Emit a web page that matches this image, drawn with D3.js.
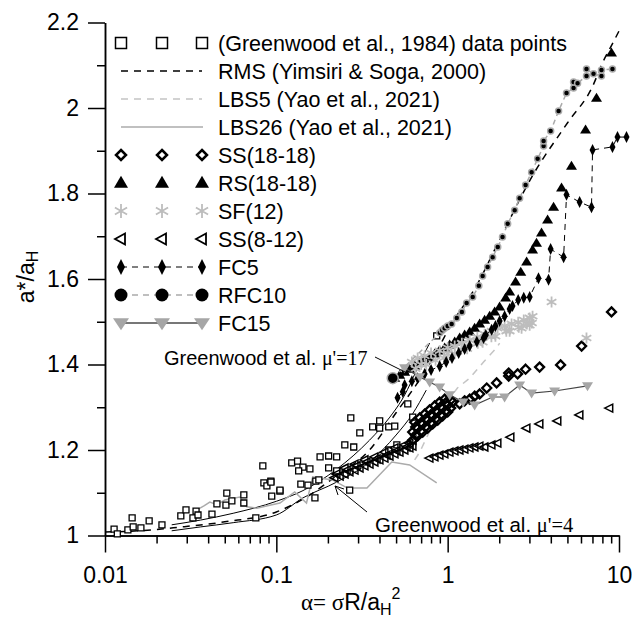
<!DOCTYPE html>
<html>
<head>
<meta charset="utf-8">
<script src="https://cdn.jsdelivr.net/npm/d3@7"></script>
<style>
body { margin:0; background:#fff; }
text { font-family:"Liberation Sans", Arial, sans-serif; }
</style>
</head>
<body>
<div id="chart"></div>
<script>
// ---- data: [alpha, a*/aH] ----
let greenwoodPts = [[0.0113,1.015],[0.0118,1.004],[0.0136,1.013],[0.0144,1.041],[0.0146,1.02],[0.0162,1.018],[0.0181,1.034],
  [0.0215,1.025],[0.0277,1.046],[0.0297,1.06],[0.0326,1.041],[0.034,1.057],[0.0349,1.048],[0.0421,1.05],[0.045,1.074],
  [0.0514,1.099],[0.0508,1.071],[0.055,1.081],[0.0646,1.095],[0.0646,1.076],[0.0759,1.041],[0.0834,1.163],[0.0846,1.123],
  [0.0881,1.116],[0.0929,1.127],[0.094,1.092],[0.105,1.104],[0.093,1.125],[0.105,1.106],[0.123,1.17],[0.133,1.174],
  [0.143,1.16],[0.157,1.156],[0.135,1.151],[0.139,1.12],[0.153,1.118],[0.168,1.088],[0.17,1.127],[0.177,1.13],[0.18,1.184],
  [0.202,1.186],[0.225,1.184],[0.202,1.158],[0.225,1.151],[0.251,1.212],[0.268,1.106],[0.272,1.275],[0.283,1.207],
  [0.307,1.24],[0.365,1.254],[0.401,1.268],[0.401,1.251],[0.453,1.254],[0.453,1.2],[0.491,1.256],[0.505,1.212],
  [0.585,1.308],[0.625,1.277],[0.863,1.467]];

let rmsCurve = [[0.01,1.008],[0.02,1.014],[0.025,1.018],[0.05,1.032],[0.1,1.055],[0.15,1.09],[0.225,1.14],[0.35,1.2],
  [0.5,1.287],[0.7,1.37],[0.86,1.43],[1.03,1.488],[1.5,1.59],[2,1.69],[3.1,1.839],[5,1.965],[7,2.05],[8,2.105],[9.4,2.159],[10,2.18]];
let greenwood17Curve = [[0.0245,1.025],[0.036,1.036],[0.056,1.052],[0.1,1.08],[0.143,1.105],[0.225,1.155],[0.35,1.223],
  [0.46,1.277],[0.54,1.317],[0.734,1.427],[0.785,1.45]];
let greenwood4Curve = [[0.0245,1.011],[0.036,1.02],[0.056,1.03],[0.1,1.048],[0.143,1.088],[0.225,1.125],[0.35,1.172],
  [0.5,1.235],[0.625,1.285],[0.75,1.34]];
let lbs5Curve = [[0.642,1.177],[0.687,1.195],[0.8,1.251],[0.96,1.305],[1.14,1.345],[1.344,1.368],[1.62,1.406],[1.93,1.439],[2.01,1.45]];
let lbs26Curve = [[0.0344,1.06],[0.038,1.07],[0.0409,1.078],[0.045,1.072],[0.05,1.083],[0.0612,1.09],[0.0672,1.067],
  [0.0769,1.064],[0.0915,1.071],[0.105,1.076],[0.128,1.102],[0.15,1.076],[0.163,1.137],[0.213,1.13],[0.26,1.111],
  [0.338,1.111],[0.472,1.172],[0.6,1.165],[0.863,1.123]];

let ss1818 = [[0.625,1.242],[0.668,1.251],[0.715,1.261],[0.764,1.27],[0.818,1.28],[0.875,1.289],[0.935,1.298],[1.0,1.305],[1.07,1.312],
  [0.642,1.265],[0.687,1.275],[0.734,1.284],[0.785,1.294],[0.84,1.303],[0.898,1.312],[0.96,1.319],
  [0.625,1.223],[0.668,1.233],[0.715,1.242],[0.764,1.251],[0.818,1.261],[0.875,1.27],[0.935,1.28],[1.0,1.289],
  [0.651,1.254],[0.696,1.263],[0.744,1.273],[0.796,1.282],[0.851,1.291],[0.91,1.301],[0.973,1.31],[1.041,1.317],
  [0.651,1.235],[0.696,1.244],[0.744,1.254],[0.796,1.263],[0.851,1.273],[0.91,1.282],[0.973,1.291],[1.041,1.298],
  [1.175,1.308],[1.256,1.315],[1.344,1.319],[1.437,1.326],[1.537,1.331],[1.69,1.345],[1.93,1.357],[2.27,1.38],[2.27,1.373],
  [2.56,1.378],[2.85,1.389],[3.44,1.394],[4.56,1.399],[6.05,1.443],[9.04,1.523]];
let rs1818 = [[0.491,1.368],[0.525,1.375],[0.561,1.382],[0.6,1.389],[0.642,1.397],[0.687,1.404],[0.734,1.411],[0.785,1.418],
  [0.84,1.425],[0.898,1.432],[0.96,1.439],[1.027,1.446],[1.099,1.453],[1.175,1.462],[1.256,1.469],[1.344,1.476],[1.437,1.485],
  [1.537,1.495],[1.643,1.504],[1.758,1.513],[1.88,1.523],[2.01,1.535],[2.18,1.556],[2.3,1.57],[2.49,1.593],[2.67,1.616],
  [2.89,1.64],[3.13,1.668],[3.3,1.684],[3.53,1.708],[3.83,1.738],[4.15,1.768],[4.62,1.813],[5.28,1.864],[6.38,1.949],
  [7.39,2.023],[9.04,2.129]];
let sf12 = [[0.618,1.406],[0.668,1.415],[0.7,1.4],[0.734,1.42],[0.8,1.427],[0.85,1.41],[0.898,1.432],[1.0,1.439],[1.0,1.425],
  [1.099,1.443],[1.2,1.435],[1.21,1.45],[1.344,1.457],[1.49,1.464],[1.5,1.45],[1.643,1.471],[1.8,1.465],[1.806,1.478],
  [1.957,1.485],[2.15,1.49],[2.2,1.478],[2.36,1.495],[2.58,1.499],[2.6,1.487],[2.78,1.504],[2.9,1.495],[3.01,1.509],
  [3.01,1.492],[3.13,1.513],[0.65,1.39],[0.75,1.4],[0.95,1.415],[1.1,1.425],[1.3,1.437],[1.6,1.452],[1.9,1.466],
  [2.3,1.478],[2.7,1.485],[3.1,1.497],[4.04,1.546],[6.46,1.462]];
let ss812 = [[0.219,1.135],[0.235,1.139],[0.251,1.144],[0.268,1.149],[0.287,1.153],[0.307,1.158],[0.328,1.163],[0.351,1.167],
  [0.375,1.172],[0.401,1.177],[0.429,1.181],[0.459,1.186],[0.491,1.191],[0.525,1.195],[0.561,1.2],[0.6,1.205],[0.625,1.209],
  [0.225,1.144],[0.258,1.153],[0.295,1.163],[0.337,1.172],[0.386,1.179],[0.441,1.188],[0.504,1.198],[0.577,1.207],
  [0.251,1.158],[0.287,1.167],[0.328,1.177],[0.375,1.184],[0.429,1.195],[0.491,1.205],[0.561,1.212],[0.6,1.216],[0.625,1.223],
  [0.785,1.181],[0.84,1.184],[0.898,1.188],[0.96,1.191],[1.027,1.195],[1.099,1.198],[1.175,1.2],[1.256,1.202],[1.344,1.205],
  [1.437,1.207],[1.537,1.209],[1.643,1.207],[1.806,1.212],[1.957,1.216],[2.33,1.23],[2.89,1.251],[3.44,1.261],[4.38,1.268],
  [5.89,1.282],[8.8,1.298]];
let fc5 = [[0.51,1.322],[0.547,1.336],[0.561,1.352],[0.618,1.361],[0.668,1.368],[0.734,1.378],[0.8,1.387],[0.898,1.396],
  [0.98,1.406],[1.06,1.415],[1.16,1.427],[1.256,1.436],[1.344,1.443],[1.48,1.453],[1.62,1.462],[1.67,1.469],[1.806,1.481],
  [1.9,1.49],[2.01,1.502],[2.15,1.513],[2.3,1.53],[2.39,1.537],[2.58,1.551],[2.78,1.556],[3.01,1.558],[3.39,1.602],
  [3.88,1.598],[3.99,1.67],[4.75,1.651],[4.94,1.797],[5.89,1.78],[6.91,1.768],[7.01,1.902],[9.16,1.909],[9.8,1.932],[11.06,1.932]];
let rfc10 = [[0.478,1.368],[0.9,1.474],[0.93,1.48],[0.96,1.485],[1.0,1.49],[1.055,1.495],[1.13,1.509],[1.21,1.523],[1.29,1.544],
  [1.4,1.558],[1.52,1.584],[1.6,1.607],[1.71,1.628],[1.83,1.651],[1.96,1.675],[2.09,1.698],[2.24,1.729],[2.46,1.761],
  [2.63,1.789],[2.85,1.82],[3.09,1.85],[3.35,1.881],[3.63,1.911],[3.63,1.923],[3.99,1.946],[4.44,1.993],[4.94,2.035],
  [5.43,2.047],[5.43,2.061],[5.73,2.058],[6.46,2.075],[6.46,2.091],[7.1,2.08],[7.9,2.075],[7.9,2.089],[9.16,2.091]];
let fc15 = [[0.56,1.392],[0.687,1.371],[0.785,1.359],[0.898,1.347],[1.027,1.329],[1.23,1.312],[1.437,1.305],[1.83,1.324],
  [2.15,1.324],[2.63,1.352],[3.09,1.333],[4.21,1.338],[6.55,1.35]];

let legendLabels = ["(Greenwood et al., 1984) data points", "RMS (Yimsiri & Soga, 2000)", "LBS5 (Yao et al., 2021)",
  "LBS26 (Yao et al., 2021)", "SS(18-18)", "RS(18-18)", "SF(12)", "SS(8-12)", "FC5", "RFC10", "FC15"];
let xTickValues = [0.01, 0.1, 1, 10];
let xTickLabels = ["0.01", "0.1", "1", "10"];
let yTickValues = [1, 1.2, 1.4, 1.6, 1.8, 2, 2.2];
let yTickLabels = ["1", "1.2", "1.4", "1.6", "1.8", "2", "2.2"];

// ---- chart size ----
let svgWidth = 632;
let svgHeight = 622;
let margin = { top:22.5, right:13, bottom:86.5, left:105 };
let width = svgWidth - (margin.left + margin.right);
let height = svgHeight - (margin.top + margin.bottom);

let svg = d3.select("#chart").append("svg")
  .attr("width", svgWidth)
  .attr("height", svgHeight);

let chartGroup = svg.append("g")
  .attr("transform", `translate(${margin.left}, ${margin.top})`);

let xScale = d3.scaleLog().domain([0.01, 10]).range([0, width]);
let yScale = d3.scaleLinear().domain([1, 2.2]).range([height, 0]);

// ---- marker shapes ----
let shapes = {
  square: s => `M${-s/2},${-s/2}h${s}v${s}h${-s}Z`,
  diamond: (w, h) => `M0,${-h/2}L${w/2},0L0,${h/2}L${-w/2},0Z`,
  triUp: (w, h) => `M0,${-h*0.6}L${w/2},${h*0.4}L${-w/2},${h*0.4}Z`,
  triDown: (w, h) => `M0,${h*0.6}L${w/2},${-h*0.4}L${-w/2},${-h*0.4}Z`,
  triLeft: (w, h) => `M${-h*0.6},0L${h*0.4},${-w/2}L${h*0.4},${w/2}Z`,
  star: r => `M0,${-r}V${r}M${-r*0.87},${-r*0.5}L${r*0.87},${r*0.5}M${-r*0.87},${r*0.5}L${r*0.87},${-r*0.5}`
};

function drawMarkers(data, path, fill, stroke, sw) {
  chartGroup.append("g").selectAll("path")
    .data(data)
    .enter()
    .append("path")
    .attr("transform", d => `translate(${xScale(d[0])},${yScale(d[1])})`)
    .attr("d", path)
    .attr("fill", fill)
    .attr("stroke", stroke)
    .attr("stroke-width", sw);
}

let line = d3.line().x(d => xScale(d[0])).y(d => yScale(d[1])).curve(d3.curveMonotoneX);
let polyline = d3.line().x(d => xScale(d[0])).y(d => yScale(d[1]));

function drawLine(data, gen, color, sw, dash) {
  chartGroup.append("path")
    .datum(data)
    .attr("d", gen)
    .attr("fill", "none")
    .attr("stroke", color)
    .attr("stroke-width", sw)
    .attr("stroke-dasharray", dash);
}

// ---- axes ----
let bottomAxis = d3.axisBottom(xScale).tickValues(xTickValues)
  .tickFormat((d, i) => xTickLabels[i]).tickSize(17).tickSizeOuter(0).tickPadding(14);
let bottomMinor = d3.axisBottom(xScale).tickValues(xScale.ticks().filter(d => xTickValues.indexOf(d) < 0))
  .tickFormat("").tickSize(8).tickSizeOuter(0);
let leftAxis = d3.axisLeft(yScale).tickValues(yTickValues)
  .tickFormat((d, i) => yTickLabels[i]).tickSize(17).tickSizeOuter(0).tickPadding(9);
let leftMinor = d3.axisLeft(yScale).tickValues([1.1, 1.3, 1.5, 1.7, 1.9, 2.1])
  .tickFormat("").tickSize(8).tickSizeOuter(0);

let xAxis = chartGroup.append("g").attr("transform", `translate(0,${height})`).call(bottomAxis);
chartGroup.append("g").attr("transform", `translate(0,${height})`).call(bottomMinor);
let yAxis = chartGroup.append("g").call(leftAxis);
chartGroup.append("g").call(leftMinor);

chartGroup.selectAll(".domain, .tick line").attr("stroke", "#000").attr("stroke-width", 1.5);
chartGroup.selectAll(".tick text").attr("font-size", 23).attr("fill", "#000")
  .attr("font-family", "Liberation Sans, Arial, sans-serif");

// ---- curves ----
drawLine(greenwood17Curve, line, "#000", 1, null);
drawLine(greenwood4Curve, line, "#000", 1, null);
drawLine(rmsCurve, line, "#000", 1.5, "7,6");
drawLine(lbs5Curve, polyline, "#c4c4c4", 1.5, "7,6");
drawLine(lbs26Curve, polyline, "#ababab", 1.5, null);

// ---- data series ----
drawMarkers(greenwoodPts, shapes.square(6), "#fff", "#000", 1.3);
drawMarkers(ss1818, shapes.diamond(9, 9), "none", "#000", 2.3);
drawMarkers(rs1818, shapes.triUp(11, 9), "#000", "none", 0);
drawMarkers(sf12, shapes.star(5.5), "none", "#bdbdbd", 1.8);
drawMarkers(ss812, shapes.triLeft(8, 8), "none", "#000", 1.5);
drawLine(fc5, polyline, "#000", 1, "6,5");
drawMarkers(fc5, shapes.diamond(6, 12), "#000", "none", 0);
drawLine(rfc10, polyline, "#aaa", 1.5, "5,4");
chartGroup.append("g").selectAll("circle")
  .data(rfc10)
  .enter()
  .append("circle")
  .attr("cx", d => xScale(d[0]))
  .attr("cy", d => yScale(d[1]))
  .attr("r", (d, i) => i === 0 ? 5.5 : 3)
  .attr("fill", "#000")
  .attr("stroke", "#aaa")
  .attr("stroke-width", 1.5);
drawLine(fc15, polyline, "#444", 1.2, null);
drawMarkers(fc15, shapes.triDown(11, 9), "#a6a6a6", "none", 0);

// ---- legend ----
let legend = svg.append("g");
let lx = [121, 162, 202];
legendLabels.forEach(function(label, i) {
  let ly = 43 + 28 * i;
  let row = legend.append("g");
  if (i === 1 || i === 2 || i === 3 || i === 8 || i === 9 || i === 10) {
    let lineStyle = {
      1: ["#000", 1.5, "7,6"], 2: ["#c4c4c4", 1.5, "7,6"], 3: ["#ababab", 1.5, null],
      8: ["#000", 1, "6,5"], 9: ["#aaa", 1.5, "6,5"], 10: ["#777", 2, null]
    }[i];
    row.append("line").attr("x1", 121).attr("x2", i === 3 ? 203 : 202).attr("y1", ly).attr("y2", ly)
      .attr("stroke", lineStyle[0]).attr("stroke-width", lineStyle[1]).attr("stroke-dasharray", lineStyle[2]);
  }
  let mk = null;
  if (i === 0) mk = [shapes.square(11), "#fff", "#000", 1.5];
  if (i === 4) mk = [shapes.diamond(10, 10), "#fff", "#000", 2.5];
  if (i === 5) mk = [shapes.triUp(14, 12), "#000", "none", 0];
  if (i === 6) mk = [shapes.star(7), "none", "#bdbdbd", 1.8];
  if (i === 7) mk = [shapes.triLeft(11, 10), "#fff", "#000", 1.8];
  if (i === 8) mk = [shapes.diamond(8, 16), "#000", "none", 0];
  if (i === 10) mk = [shapes.triDown(16, 12), "#a6a6a6", "none", 0];
  lx.forEach(function(x) {
    if (i === 9) {
      row.append("circle").attr("cx", x).attr("cy", ly).attr("r", 6.5).attr("fill", "#000");
    } else if (mk) {
      row.append("path").attr("transform", `translate(${x},${ly})`).attr("d", mk[0])
        .attr("fill", mk[1]).attr("stroke", mk[2]).attr("stroke-width", mk[3]);
    }
  });
  row.append("text").attr("x", 218).attr("y", ly).attr("dy", "0.36em")
    .attr("font-size", 21.5).text(label);
});

// ---- annotations ----
let ann1 = svg.append("text").attr("x", 164).attr("y", 365).attr("font-size", 20);
ann1.append("tspan").text("Greenwood et al. ");
ann1.append("tspan").attr("font-family", "Liberation Serif, Times New Roman, serif").text("\u03bc'=17");
svg.append("line").attr("x1", 375).attr("y1", 357).attr("x2", 409).attr("y2", 374)
  .attr("stroke", "#000").attr("stroke-width", 1);

let ann2 = svg.append("text").attr("x", 375).attr("y", 532).attr("font-size", 20.5);
ann2.append("tspan").text("Greenwood et al. ");
ann2.append("tspan").attr("font-family", "Liberation Serif, Times New Roman, serif").text("\u03bc'=4");
svg.append("path").attr("d", "M367,512L335,486M335,486l3,9M335,486l9,3")
  .attr("fill", "none").attr("stroke", "#000").attr("stroke-width", 1);

// ---- axis titles ----
let xTitle = svg.append("text").attr("x", 301).attr("y", 610).attr("font-size", 23);
xTitle.append("tspan").attr("font-family", "Liberation Serif, Times New Roman, serif").text("\u03b1= \u03c3");
xTitle.append("tspan").text("R/a");
xTitle.append("tspan").attr("font-size", 16).attr("dy", 5).text("H");
xTitle.append("tspan").attr("font-size", 16).attr("dy", -16).text("2");

let yTitle = svg.append("text").attr("transform", "translate(34,277) rotate(-90)")
  .attr("text-anchor", "middle").attr("font-size", 23);
yTitle.append("tspan").text("a*/a");
yTitle.append("tspan").attr("font-size", 16).attr("dy", 4).text("H");
</script>
</body>
</html>
